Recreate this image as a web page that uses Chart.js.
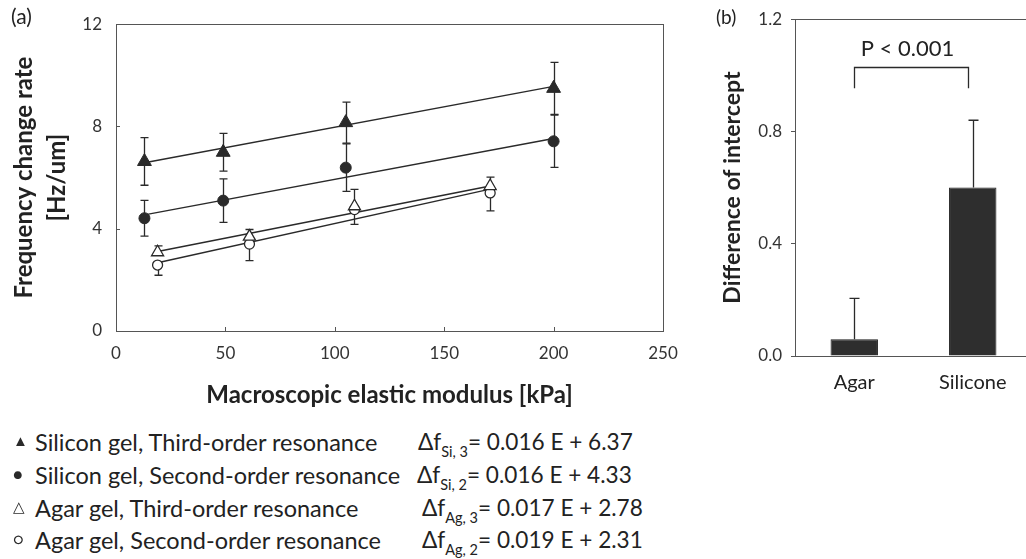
<!DOCTYPE html>
<html>
<head>
<meta charset="utf-8">
<script src="https://cdn.jsdelivr.net/npm/chart.js"></script>
<style>
  body { margin: 0; width: 1026px; height: 559px; overflow: hidden; background: #fff; position: relative; font-family: Lato, sans-serif; color: #222; }
  #chartA { position: absolute; left: 0; top: 0; }
  #chartB { position: absolute; left: 700px; top: 0; }
  .tag { position: absolute; line-height: 24px; }
  .leg { position: absolute; font-size: 23.5px; line-height: 28px; white-space: nowrap; }
  .eq { position: absolute; font-size: 22.6px; line-height: 28px; white-space: nowrap; }
  .eq sub { font-size: 14.5px; vertical-align: -7px; line-height: 0; }
  .mk { position: absolute; left: 13px; line-height: 28px; color: #2a2a2a; }
</style>
</head>
<body>
<canvas id="chartA" width="700" height="410"></canvas>
<canvas id="chartB" width="340" height="410"></canvas>
<div class="tag" style="left:11px;top:4px;font-size:21px">(a)</div>
<div class="tag" style="left:716px;top:5px;font-size:19px">(b)</div>

<div class="mk" style="top:426px;font-size:15px">▲</div>
<div class="leg" style="left:35px;top:428px">Silicon gel, Third-order resonance</div>
<div class="eq" style="left:418px;top:428px">Δf<sub>Si, 3</sub>= 0.016 E + 6.37</div>
<div class="mk" style="top:460px;font-size:16px">●</div>
<div class="leg" style="left:35px;top:461px">Silicon gel, Second-order resonance</div>
<div class="eq" style="left:417px;top:461px">Δf<sub>Si, 2</sub>= 0.016 E + 4.33</div>
<div class="mk" style="top:492px;font-size:15px">△</div>
<div class="leg" style="left:35px;top:494px">Agar gel, Third-order resonance</div>
<div class="eq" style="left:422px;top:494px">Δf<sub>Ag, 3</sub>= 0.017 E + 2.78</div>
<div class="mk" style="top:525px;font-size:16px">○</div>
<div class="leg" style="left:35px;top:526px">Agar gel, Second-order resonance</div>
<div class="eq" style="left:422px;top:526px">Δf<sub>Ag, 2</sub>= 0.019 E + 2.31</div>

<script>
// (a) frequency change rate vs modulus
const modulusSi = [13, 49, 105, 200];
const modulusAg = [19, 61, 109, 171];
const siThird = [6.63, 6.99, 8.15, 9.49];
const siThirdErr = [0.93, 0.74, 0.80, 1.02];
const siSecond = [4.41, 5.10, 6.39, 7.42];
const siSecondErr = [0.70, 0.85, 0.93, 1.02];
const agThird = [3.08, 3.69, 4.88, 5.67];
const agThirdErr = [0.25, 0.28, 0.66, 0.35];
const agSecond = [2.58, 3.40, 4.75, 5.40];
const agSecondErr = [0.40, 0.65, 0.58, 0.70];

// fitted lines, end points
const fitSiX = [13, 200];
const fitSiThird = [6.58, 9.57];
const fitSiSecond = [4.54, 7.53];
const fitAgX = [19, 171];
const fitAgThird = [3.11, 5.67];
const fitAgSecond = [2.67, 5.55];

// (b) difference of intercept
const groups = ['Agar', 'Silicone'];
const interceptDiff = [0.06, 0.60];
const interceptErr = [0.145, 0.24];
const pLabel = 'P < 0.001';
const bracketTop = 1.03;
const bracketLeg = 0.954;
const pLabelY = 1.095;

const ink = '#2a2a2a';
const pts = (xs, ys) => xs.map((x, i) => ({ x: x, y: ys[i] }));

const errorBars = {
  id: 'errorBars',
  beforeDatasetsDraw(chart) {
    const ctx = chart.ctx;
    chart.data.datasets.forEach((ds, i) => {
      if (!ds.errors) return;
      const meta = chart.getDatasetMeta(i);
      const ys = chart.scales[meta.yAxisID];
      const up = ds.errDir !== 'down', down = ds.errDir !== 'up';
      const cap = ds.capHalf || 4;
      ctx.save();
      ctx.strokeStyle = ink;
      ctx.lineWidth = 1.3;
      meta.data.forEach((el, j) => {
        const d = ds.data[j];
        const v = typeof d === 'object' ? d.y : d;
        const e = ds.errors[j];
        const x = Math.round(el.x) + 0.5;
        const yt = ys.getPixelForValue(up ? v + e : v);
        const yb = ys.getPixelForValue(down ? v - e : v);
        ctx.beginPath();
        ctx.moveTo(x, yt); ctx.lineTo(x, yb);
        if (up) { ctx.moveTo(x - cap, yt); ctx.lineTo(x + cap, yt); }
        if (down) { ctx.moveTo(x - cap, yb); ctx.lineTo(x + cap, yb); }
        ctx.stroke();
      });
      ctx.restore();
    });
  }
};

const frame = {
  id: 'frame',
  afterDraw(chart, args, opts) {
    const { ctx, chartArea: a } = chart;
    ctx.save();
    ctx.strokeStyle = '#555';
    ctx.lineWidth = 1;
    ctx.strokeRect(Math.round(a.left) + 0.5, Math.round(a.top) + 0.5, Math.round(a.width), Math.round(a.height));
    if (opts.innerTicks) {
      const { x, y } = chart.scales;
      ctx.beginPath();
      x.ticks.forEach(t => {
        const px = Math.round(x.getPixelForValue(t.value)) + 0.5;
        ctx.moveTo(px, a.bottom); ctx.lineTo(px, a.bottom - 4);
      });
      y.ticks.forEach(t => {
        const py = Math.round(y.getPixelForValue(t.value)) + 0.5;
        ctx.moveTo(a.left, py); ctx.lineTo(a.left + 4, py);
      });
      ctx.stroke();
    }
    ctx.restore();
  }
};

const bracket = {
  id: 'bracket',
  afterDraw(chart) {
    const { ctx, scales: { x, y } } = chart;
    const x1 = Math.round(x.getPixelForValue(0)) + 0.5;
    const x2 = Math.round(x.getPixelForValue(1)) - 4.5;
    const yt = Math.round(y.getPixelForValue(bracketTop)) + 0.5;
    const yl = y.getPixelForValue(bracketLeg);
    ctx.save();
    ctx.strokeStyle = ink;
    ctx.lineWidth = 1.3;
    ctx.beginPath();
    ctx.moveTo(x1, yl); ctx.lineTo(x1, yt); ctx.lineTo(x2, yt); ctx.lineTo(x2, yl);
    ctx.stroke();
    ctx.fillStyle = '#222';
    ctx.font = '22px Lato';
    ctx.textAlign = 'center';
    ctx.textBaseline = 'middle';
    ctx.fillText(pLabel, (x1 + x2) / 2 - 4, y.getPixelForValue(pLabelY));
    ctx.restore();
  }
};

new Chart(document.getElementById('chartA'), {
  type: 'scatter',
  data: {
    datasets: [
      { type: 'line', data: pts(fitSiX, fitSiThird), borderColor: ink, borderWidth: 1.4, pointRadius: 0, order: 2 },
      { type: 'line', data: pts(fitSiX, fitSiSecond), borderColor: ink, borderWidth: 1.4, pointRadius: 0, order: 2 },
      { type: 'line', data: pts(fitAgX, fitAgThird), borderColor: ink, borderWidth: 1.4, pointRadius: 0, order: 2 },
      { type: 'line', data: pts(fitAgX, fitAgSecond), borderColor: ink, borderWidth: 1.4, pointRadius: 0, order: 2 },
      { label: 'Silicon gel, Third-order resonance', data: pts(modulusSi, siThird), errors: siThirdErr,
        pointStyle: 'triangle', pointRadius: 8, backgroundColor: ink, borderColor: ink, order: 1 },
      { label: 'Silicon gel, Second-order resonance', data: pts(modulusSi, siSecond), errors: siSecondErr,
        pointStyle: 'circle', pointRadius: 5.5, backgroundColor: ink, borderColor: ink, order: 1 },
      { label: 'Agar gel, Second-order resonance', data: pts(modulusAg, agSecond), errors: agSecondErr, errDir: 'down',
        pointStyle: 'circle', pointRadius: 5, backgroundColor: '#fff', borderColor: ink, borderWidth: 1.3, order: 1 },
      { label: 'Agar gel, Third-order resonance', data: pts(modulusAg, agThird), errors: agThirdErr, errDir: 'up',
        pointStyle: 'triangle', pointRadius: 7, backgroundColor: '#fff', borderColor: ink, borderWidth: 1.3, order: 0 }
    ]
  },
  options: {
    responsive: false,
    animation: false,
    layout: { padding: { left: 0, top: 13, right: 37, bottom: 0 } },
    plugins: { legend: { display: false }, tooltip: { enabled: false }, frame: { innerTicks: true } },
    scales: {
      x: {
        type: 'linear', min: 0, max: 250,
        grid: { display: false, drawTicks: false }, border: { display: false },
        ticks: { stepSize: 50, padding: 12, color: '#333', font: { family: 'Lato', size: 17 } },
        title: { display: true, text: 'Macroscopic elastic modulus [kPa]', color: '#222',
                 font: { family: 'Lato', size: 24, weight: 'bold' }, padding: { top: 0, bottom: 0 } },
        afterFit(s) { s.height = 79; }
      },
      y: {
        min: 0, max: 12,
        grid: { display: false, drawTicks: false }, border: { display: false },
        ticks: { stepSize: 4, padding: 14, color: '#333', font: { family: 'Lato', size: 17 } },
        title: { display: true, text: ['Frequency change rate', '[Hz/um]'], color: '#222',
                 font: { family: 'Lato', size: 24, weight: 'bold', lineHeight: 1.375 }, padding: { top: 8, bottom: 0 } },
        afterFit(s) { s.width = 116; }
      }
    }
  },
  plugins: [errorBars, frame]
});

new Chart(document.getElementById('chartB'), {
  type: 'bar',
  data: {
    labels: groups,
    datasets: [{
      data: interceptDiff, errors: interceptErr, errDir: 'up', capHalf: 5,
      backgroundColor: '#2e2e2e', borderColor: '#1c1c1c', borderWidth: 1,
      barPercentage: 0.4, categoryPercentage: 1
    }]
  },
  options: {
    responsive: false,
    animation: false,
    layout: { padding: { left: 0, top: 15, right: 8, bottom: 0 } },
    plugins: { legend: { display: false }, tooltip: { enabled: false }, frame: {} },
    scales: {
      x: {
        grid: { display: false, drawTicks: false }, border: { display: false },
        ticks: { padding: 15, color: '#222', font: { family: 'Lato', size: 20 } },
        afterFit(s) { s.height = 54; }
      },
      y: {
        min: 0, max: 1.2,
        grid: { drawOnChartArea: false, drawTicks: true, tickLength: 4, color: '#555' },
        border: { display: false },
        ticks: { stepSize: 0.4, padding: 9, color: '#333', font: { family: 'Lato', size: 17 },
                 callback: v => v.toFixed(1) },
        title: { display: true, text: 'Difference of intercept', color: '#222',
                 font: { family: 'Lato', size: 23, weight: 'bold' }, padding: { top: 19, bottom: 0 } },
        afterFit(s) { s.width = 95; }
      }
    }
  },
  plugins: [errorBars, frame, bracket]
});
</script>
</body>
</html>
